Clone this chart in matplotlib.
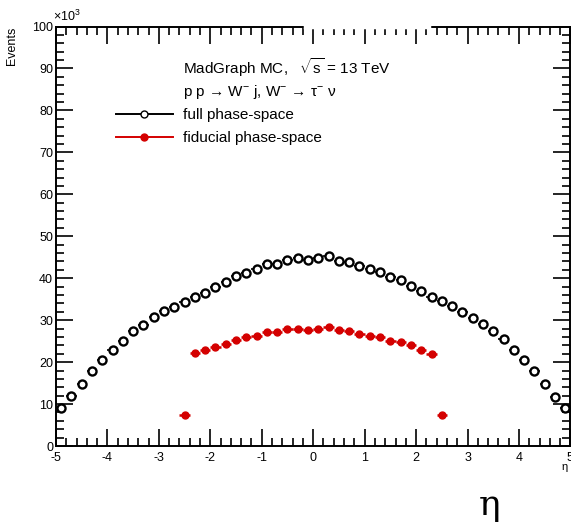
import matplotlib
matplotlib.use("Agg")
import matplotlib.pyplot as plt
from matplotlib.lines import Line2D
from matplotlib.ticker import MultipleLocator

plt.rcParams['font.family'] = ['Liberation Sans', 'DejaVu Sans']
plt.rcParams['mathtext.fontset'] = 'custom'
plt.rcParams['mathtext.rm'] = 'Liberation Sans'
plt.rcParams['mathtext.it'] = 'Liberation Sans'
plt.rcParams['axes.unicode_minus'] = False

# eta bin centres (bin width 0.2)
eta_full = [-4.9, -4.7, -4.5, -4.3, -4.1, -3.9, -3.7, -3.5, -3.3, -3.1,
            -2.9, -2.7, -2.5, -2.3, -2.1, -1.9, -1.7, -1.5, -1.3, -1.1,
            -0.9, -0.7, -0.5, -0.3, -0.1, 0.1, 0.3, 0.5, 0.7, 0.9,
            1.1, 1.3, 1.5, 1.7, 1.9, 2.1, 2.3, 2.5, 2.7, 2.9,
            3.1, 3.3, 3.5, 3.7, 3.9, 4.1, 4.3, 4.5, 4.7, 4.9]
# events in units of 10^3
full_events = [9.0, 12.0, 14.8, 17.9, 20.6, 22.9, 25.1, 27.5, 28.8, 30.8,
               32.1, 33.2, 34.4, 35.6, 36.5, 37.9, 39.1, 40.5, 41.3, 42.1,
               43.5, 43.5, 44.4, 44.8, 44.4, 44.8, 45.3, 44.0, 43.9, 42.9,
               42.3, 41.5, 40.2, 39.5, 38.2, 36.9, 35.6, 34.6, 33.4, 32.0,
               30.6, 29.2, 27.5, 25.6, 23.0, 20.5, 17.9, 14.9, 11.7, 9.1]

eta_fid = [-2.5, -2.3, -2.1, -1.9, -1.7, -1.5, -1.3, -1.1, -0.9, -0.7,
           -0.5, -0.3, -0.1, 0.1, 0.3, 0.5, 0.7, 0.9, 1.1, 1.3,
           1.5, 1.7, 1.9, 2.1, 2.3, 2.5]
fid_events = [7.4, 22.1, 22.9, 23.6, 24.4, 25.2, 25.9, 26.3, 27.1, 27.1,
              27.8, 27.9, 27.6, 27.9, 28.4, 27.6, 27.5, 26.6, 26.3, 25.9,
              25.0, 24.8, 24.0, 22.9, 21.9, 7.5]

red = '#d40000'

fig = plt.figure(figsize=(5.71, 5.26), dpi=100)
ax = fig.add_axes([0.098, 0.152, 0.901, 0.7976])

ax.errorbar(eta_full, full_events, xerr=0.1, fmt='o', mfc='white', mec='black',
            mew=1.7, ms=5.8, ecolor='black', elinewidth=1.2, capsize=0, zorder=3)
ax.errorbar(eta_fid, fid_events, xerr=0.1, yerr=0.5, fmt='o', color=red,
            ms=5, elinewidth=1.8, capsize=0, zorder=3)

ax.set_xlim(-5, 5)
ax.set_ylim(0, 100)
ax.xaxis.set_major_locator(MultipleLocator(1))
ax.xaxis.set_minor_locator(MultipleLocator(0.2))
ax.yaxis.set_major_locator(MultipleLocator(10))
ax.yaxis.set_minor_locator(MultipleLocator(2))
ax.tick_params(which='both', direction='in', top=True, right=True, width=1.2,
               labelsize=9, colors='black')
ax.tick_params(which='major', length=12)
ax.tick_params(which='minor', length=6)
ax.tick_params(axis='x', pad=4)
ax.tick_params(axis='y', pad=2)
for s in ax.spines.values():
    s.set_linewidth(1.4)

# gap in the top frame
ax.plot([0.485, 0.725], [1.0, 1.0], transform=ax.transAxes, color='white',
        lw=2.5, clip_on=False, zorder=5)

ax.text(-0.005, 1.005, r'$\times$10$^3$', transform=ax.transAxes, fontsize=9,
        ha='left', va='bottom')
fig.text(0.010, 0.950, 'Events', rotation=90, ha='left', va='top', fontsize=9)
fig.text(0.988, 0.113, 'η', ha='center', va='center', fontsize=8)
fig.text(0.857, 0.040, 'η', ha='center', va='center', fontsize=26,
         family=['DejaVu Serif'])

ax.text(0.247, 0.902, r'MadGraph MC,   $\sqrt{\rm s}$ = 13 TeV', transform=ax.transAxes,
        fontsize=11, va='center', ha='left')
ax.text(0.247, 0.845, 'p p → W$^{-}$ j, W$^{-}$ → τ$^{-}$ ν', transform=ax.transAxes,
        fontsize=11, va='center', ha='left')

handles = [Line2D([], [], color='black', marker='o', mfc='white', mec='black', ms=5, lw=1.4),
           Line2D([], [], color=red, marker='o', ms=5, lw=1.4)]
ax.legend(handles, ['full phase-space', 'fiducial phase-space'], loc='upper left',
          bbox_to_anchor=(0.117, 0.805), frameon=False, fontsize=11,
          handlelength=3.7, handletextpad=0.7, labelspacing=0.6,
          borderpad=0, borderaxespad=0)

fig.savefig('out.png', dpi=100)
